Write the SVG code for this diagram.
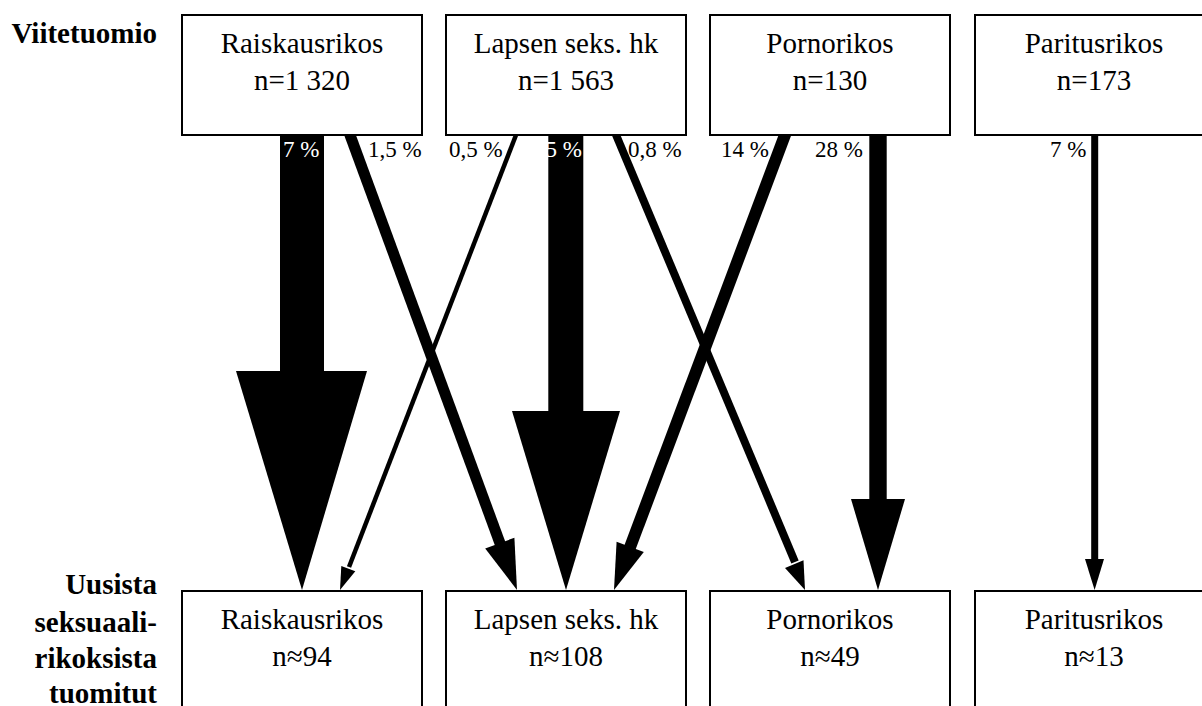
<svg xmlns="http://www.w3.org/2000/svg" width="1202" height="706" viewBox="0 0 1202 706">
  <style>
    .box { fill: #ffffff; stroke: #000000; stroke-width: 2; }
    .t { font-family: "Liberation Serif", "Times New Roman", serif; font-size: 29px; fill: #000000; text-anchor: middle; }
    .side { font-family: "Liberation Serif", "Times New Roman", serif; font-size: 29px; font-weight: bold; fill: #000000; text-anchor: end; }
    .pct { font-family: "Liberation Serif", "Times New Roman", serif; font-size: 23px; fill: #000000; }
    .pctw { font-family: "Liberation Serif", "Times New Roman", serif; font-size: 23px; fill: #ffffff; }
    .ln { stroke: #000000; fill: none; stroke-linecap: butt; }
    .hd { fill: #000000; stroke: none; }
  </style>
  <rect width="1202" height="706" fill="#ffffff"/>

  <g id="connectors">
    <g id="c-rais-rais">
      <rect class="hd" x="280" y="120" width="44" height="252"/>
      <polygon class="hd" points="236,371 367,371 302,590"/>
    </g>
    <g id="c-rais-laps">
      <line class="ln" x1="344.5" y1="120" x2="501" y2="546" stroke-width="11"/>
      <polygon class="hd" points="514.4,537.8 485.2,548.4 517,590"/>
    </g>
    <g id="c-laps-rais">
      <line class="ln" x1="521.8" y1="120" x2="349" y2="567" stroke-width="4.5"/>
      <polygon class="hd" points="355.3,571.3 341.3,565.9 340,590"/>
    </g>
    <g id="c-laps-laps">
      <rect class="hd" x="548.3" y="120" width="35" height="292"/>
      <polygon class="hd" points="512,411 620,411 566,590"/>
    </g>
    <g id="c-laps-porno">
      <line class="ln" x1="609.8" y1="120" x2="795" y2="562" stroke-width="8"/>
      <polygon class="hd" points="803.5,560.3 785,568 805,590"/>
    </g>
    <g id="c-porno-laps">
      <line class="ln" x1="790.6" y1="120" x2="629" y2="550" stroke-width="12"/>
      <polygon class="hd" points="643.8,552 616.6,541.8 614,590"/>
    </g>
    <g id="c-porno-porno">
      <rect class="hd" x="869.3" y="120" width="17.4" height="380"/>
      <polygon class="hd" points="851,499 905,499 878,590"/>
    </g>
    <g id="c-par-par">
      <rect class="hd" x="1091.2" y="120" width="7" height="440"/>
      <polygon class="hd" points="1085,559 1104,559 1094.6,590"/>
    </g>
  </g>

  <g id="top-rais">
    <rect class="box" x="182" y="15" width="240" height="120"/>
    <text class="t" x="302" y="53">Raiskausrikos</text>
    <text class="t" x="302" y="90">n=1 320</text>
  </g>
  <g id="top-laps">
    <rect class="box" x="446" y="15" width="240" height="120"/>
    <text class="t" x="566" y="53">Lapsen seks. hk</text>
    <text class="t" x="566" y="90">n=1 563</text>
  </g>
  <g id="top-porno">
    <rect class="box" x="710" y="15" width="240" height="120"/>
    <text class="t" x="830" y="53">Pornorikos</text>
    <text class="t" x="830" y="90">n=130</text>
  </g>
  <g id="top-par">
    <rect class="box" x="975" y="15" width="240" height="120"/>
    <text class="t" x="1094" y="53">Paritusrikos</text>
    <text class="t" x="1094" y="90">n=173</text>
  </g>

  <g id="bottom-rais">
    <rect class="box" x="182" y="591" width="240" height="130"/>
    <text class="t" x="302" y="629">Raiskausrikos</text>
    <text class="t" x="302" y="666">n≈94</text>
  </g>
  <g id="bottom-laps">
    <rect class="box" x="446" y="591" width="240" height="130"/>
    <text class="t" x="566" y="629">Lapsen seks. hk</text>
    <text class="t" x="566" y="666">n≈108</text>
  </g>
  <g id="bottom-porno">
    <rect class="box" x="710" y="591" width="240" height="130"/>
    <text class="t" x="830" y="629">Pornorikos</text>
    <text class="t" x="830" y="666">n≈49</text>
  </g>
  <g id="bottom-par">
    <rect class="box" x="975" y="591" width="240" height="130"/>
    <text class="t" x="1094" y="629">Paritusrikos</text>
    <text class="t" x="1094" y="666">n≈13</text>
  </g>

  <g id="labels">
    <text class="pctw" x="283" y="157">7 %</text>
    <text class="pct" x="368" y="157">1,5 %</text>
    <text class="pct" x="449" y="157">0,5 %</text>
    <text class="pctw" x="582" y="157" text-anchor="end">5 %</text>
    <text class="pct" x="628" y="157">0,8 %</text>
    <text class="pct" x="721" y="157">14 %</text>
    <text class="pct" x="815" y="157">28 %</text>
    <text class="pct" x="1050" y="157">7 %</text>
  </g>

  <g id="side-labels">
    <text class="side" x="157" y="43">Viitetuomio</text>
    <text class="side" x="157" y="594">Uusista</text>
    <text class="side" x="157" y="632">seksuaali-</text>
    <text class="side" x="157" y="668">rikoksista</text>
    <text class="side" x="157" y="703">tuomitut</text>
  </g>
</svg>
